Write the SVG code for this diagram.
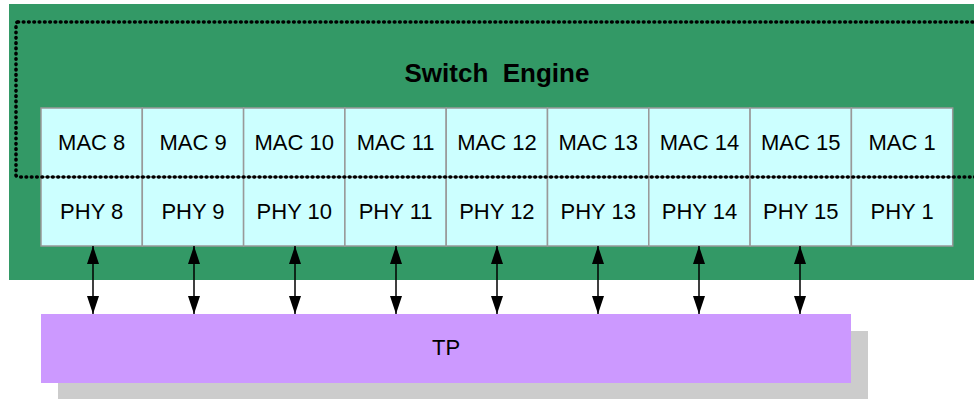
<svg xmlns="http://www.w3.org/2000/svg" width="974" height="399" viewBox="0 0 974 399">
<style>
.cell{fill:#ccffff;stroke:#999999;stroke-width:1.5}
.lbl{font-family:"Liberation Sans",Arial,sans-serif;font-size:22px;fill:#000;text-anchor:middle}
.title{font-family:"Liberation Sans",Arial,sans-serif;font-size:26px;font-weight:bold;fill:#000;text-anchor:middle;white-space:pre}
.conn{stroke:#000;stroke-width:1.5;fill:none;marker-start:url(#ah);marker-end:url(#ah)}
</style>
<defs>
<marker id="ah" viewBox="0 0 18 12" refX="18" refY="6" markerWidth="18" markerHeight="12" markerUnits="userSpaceOnUse" orient="auto-start-reverse">
<path d="M0,0 L18,6 L0,12 Z" fill="#000"/>
</marker>
</defs>
<rect width="974" height="399" fill="#ffffff"/>
<g id="tp-shadow"><rect x="58" y="331" width="810" height="69" fill="#cccccc"/></g>
<g id="switch-engine">
<rect x="9" y="4" width="970" height="276" fill="#339966"/>
<text class="title" x="497" y="82" xml:space="preserve">Switch  Engine</text>
</g>
<g id="mac8"><rect class="cell" x="41" y="108" width="101.3" height="69"/><text class="lbl" x="91.7" y="150">MAC 8</text></g>
<g id="mac9"><rect class="cell" x="142.3" y="108" width="101.3" height="69"/><text class="lbl" x="193" y="150">MAC 9</text></g>
<g id="mac10"><rect class="cell" x="243.6" y="108" width="101.3" height="69"/><text class="lbl" x="294.3" y="150">MAC 10</text></g>
<g id="mac11"><rect class="cell" x="344.9" y="108" width="101.3" height="69"/><text class="lbl" x="395.6" y="150">MAC 11</text></g>
<g id="mac12"><rect class="cell" x="446.2" y="108" width="101.3" height="69"/><text class="lbl" x="496.9" y="150">MAC 12</text></g>
<g id="mac13"><rect class="cell" x="547.5" y="108" width="101.3" height="69"/><text class="lbl" x="598.2" y="150">MAC 13</text></g>
<g id="mac14"><rect class="cell" x="648.8" y="108" width="101.3" height="69"/><text class="lbl" x="699.5" y="150">MAC 14</text></g>
<g id="mac15"><rect class="cell" x="750.1" y="108" width="101.3" height="69"/><text class="lbl" x="800.8" y="150">MAC 15</text></g>
<g id="mac1"><rect class="cell" x="851.4" y="108" width="101.3" height="69"/><text class="lbl" x="902.1" y="150">MAC 1</text></g>
<g id="phy8"><rect class="cell" x="41" y="177" width="101.3" height="69"/><text class="lbl" x="91.7" y="219">PHY 8</text></g>
<g id="phy9"><rect class="cell" x="142.3" y="177" width="101.3" height="69"/><text class="lbl" x="193" y="219">PHY 9</text></g>
<g id="phy10"><rect class="cell" x="243.6" y="177" width="101.3" height="69"/><text class="lbl" x="294.3" y="219">PHY 10</text></g>
<g id="phy11"><rect class="cell" x="344.9" y="177" width="101.3" height="69"/><text class="lbl" x="395.6" y="219">PHY 11</text></g>
<g id="phy12"><rect class="cell" x="446.2" y="177" width="101.3" height="69"/><text class="lbl" x="496.9" y="219">PHY 12</text></g>
<g id="phy13"><rect class="cell" x="547.5" y="177" width="101.3" height="69"/><text class="lbl" x="598.2" y="219">PHY 13</text></g>
<g id="phy14"><rect class="cell" x="648.8" y="177" width="101.3" height="69"/><text class="lbl" x="699.5" y="219">PHY 14</text></g>
<g id="phy15"><rect class="cell" x="750.1" y="177" width="101.3" height="69"/><text class="lbl" x="800.8" y="219">PHY 15</text></g>
<g id="phy1"><rect class="cell" x="851.4" y="177" width="101.3" height="69"/><text class="lbl" x="902.1" y="219">PHY 1</text></g>
<g id="engine-boundary"><rect x="16" y="22" width="990" height="155" rx="2" fill="none" stroke="#000" stroke-width="3.6" stroke-linecap="round" stroke-dasharray="0.6 4.7"/></g>
<g id="tp"><rect x="41" y="314" width="810" height="69" fill="#cc99ff"/><text class="lbl" x="446" y="355">TP</text></g>
<g id="connectors">
<line class="conn" x1="93" y1="246" x2="93" y2="314"/>
<line class="conn" x1="194" y1="246" x2="194" y2="314"/>
<line class="conn" x1="295" y1="246" x2="295" y2="314"/>
<line class="conn" x1="396" y1="246" x2="396" y2="314"/>
<line class="conn" x1="497" y1="246" x2="497" y2="314"/>
<line class="conn" x1="598" y1="246" x2="598" y2="314"/>
<line class="conn" x1="699" y1="246" x2="699" y2="314"/>
<line class="conn" x1="800" y1="246" x2="800" y2="314"/>
</g>
</svg>
